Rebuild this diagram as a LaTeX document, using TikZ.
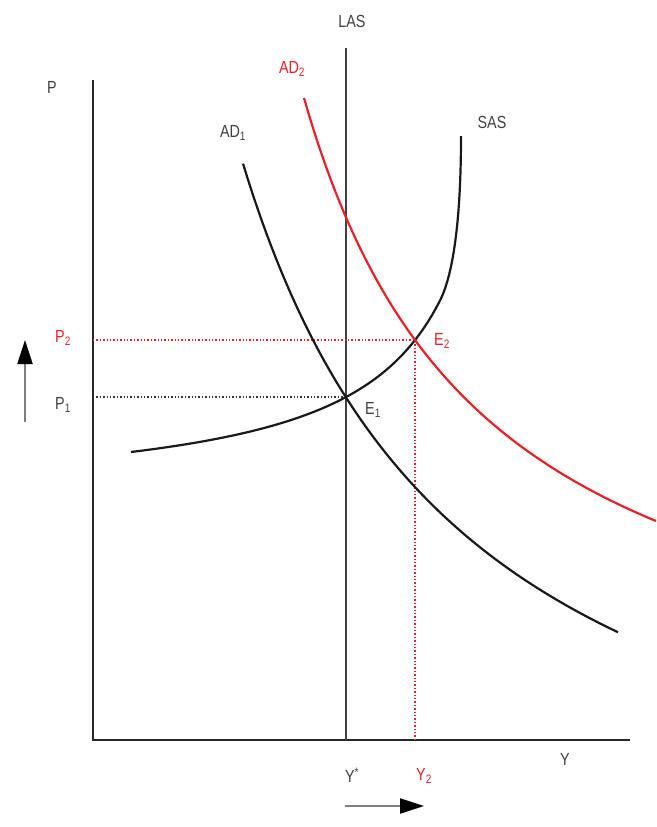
\documentclass[tikz,border=0pt]{standalone}
\usepackage{fontspec}
\setmainfont{Liberation Sans}
\usetikzlibrary{arrows.meta}
\definecolor{myred}{HTML}{E8202A}
\definecolor{txt}{HTML}{404040}
\newcommand{\lbl}[1]{\scalebox{0.82}[1]{#1}}
\begin{document}
\begin{tikzpicture}[x=1pt,y=-1pt,
  lab/.style={inner sep=0pt,text=txt,font=\fontsize{17.5}{17.5}\selectfont},
  redlab/.style={lab,text=myred},
  axis/.style={line width=1.8pt,black!85},
  curve/.style={line width=2.2pt,black!90,line join=round},
  redcurve/.style={line width=2.2pt,myred,line join=round},
  guide/.style={line width=1.4pt,dotted},
  shiftarrow/.style={line width=2.2pt,black!50,-{Triangle[length=24pt,width=15pt,black]}}]
\useasboundingbox (0,0) rectangle (656,827);
% axes
\coordinate (O) at (93,740);
\coordinate (Ptop) at (93,80);
\coordinate (Yend) at (630,740);
\draw[axis] (Ptop) -- (O) -- (Yend);
% LAS
\coordinate (LAStop) at (346,48);
\coordinate (LASbot) at (346,740);
\draw[line width=1.5pt,black!75] (LAStop) -- (LASbot);
% equilibria
\coordinate (E1) at (346,397);
\coordinate (E2) at (415,340);
\coordinate (P1a) at (93,397);
\coordinate (P2a) at (93,340);
\coordinate (Y2a) at (415,740);
\draw[guide,black!80] (P1a) -- (E1);
\draw[guide,myred] (P2a) -- (E2) -- (Y2a);
% SAS
\coordinate (SAStop) at (461,136);
\draw[curve] plot[domain=131:440,samples=80] (\x,{502.2-206.52/((542.4-\x)/100)})
  .. controls (454,273) and (461,215) .. (SAStop);
% AD1
\draw[curve] plot[domain=243:618,samples=80] (\x,{919.8-1740/((\x-12.9)/100)});
% AD2
\draw[redcurve] plot[domain=304:656,samples=80] (\x,{743.3-1193.8/((\x-119)/100)});
% labels
\node[lab] (LAS) at (352,21) {\lbl{LAS}};
\node[lab] (P) at (52,87) {\lbl{P}};
\node[lab] (Y) at (565,759) {\lbl{Y}};
\node[redlab] (AD2) at (292,69) {\lbl{AD\textsubscript{2}}};
\node[lab] (AD1) at (233,133) {\lbl{AD\textsubscript{1}}};
\node[lab] (SAS) at (492,122) {\lbl{SAS}};
\node[redlab] (P2) at (63,338) {\lbl{P\textsubscript{2}}};
\node[lab] (P1) at (63,405) {\lbl{P\textsubscript{1}}};
\node[lab] (E1l) at (373,410) {\lbl{E\textsubscript{1}}};
\node[redlab] (E2l) at (442,341) {\lbl{E\textsubscript{2}}};
\node[lab] (Ys) at (352,775) {\lbl{Y\textsuperscript{*}}};
\node[redlab] (Y2) at (424,776) {\lbl{Y\textsubscript{2}}};
% shift arrows
\coordinate (ua) at (25,422);
\coordinate (ub) at (25,340);
\coordinate (ra) at (345,806);
\coordinate (rb) at (424,806);
\draw[shiftarrow] (ua) -- (ub);
\draw[shiftarrow] (ra) -- (rb);
\end{tikzpicture}
\end{document}
